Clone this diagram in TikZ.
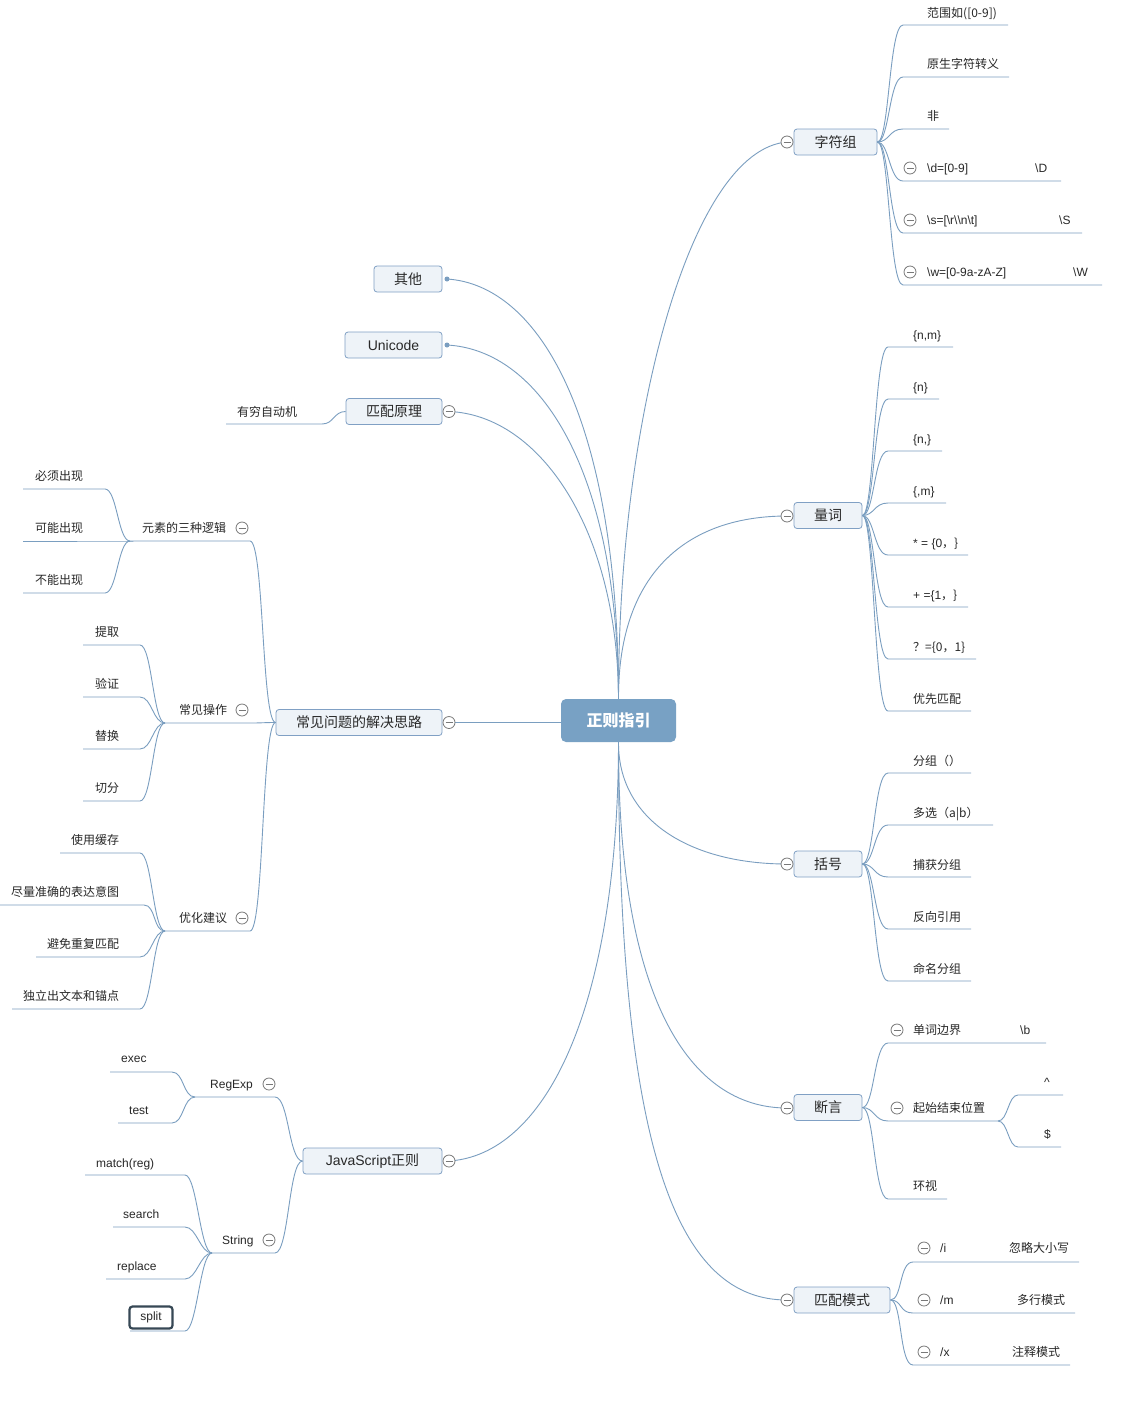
\documentclass[tikz,border=0pt]{standalone}
\usepackage{fontspec}
\setmainfont{Liberation Sans}
\newfontfamily\cjk{Noto Sans CJK SC}
\definecolor{linec}{RGB}{122,158,192}
\definecolor{topicb}{RGB}{128,160,196}
\definecolor{topicf}{RGB}{238,243,248}
\definecolor{rootc}{RGB}{120,161,196}
\definecolor{collc}{RGB}{120,120,120}
\definecolor{txt}{RGB}{40,40,40}
\definecolor{splitc}{RGB}{55,72,85}
\tikzset{
 conn/.style={draw=linec, line width=0.9pt},
 topic/.style={draw=topicb, fill=topicf, rounded corners=3pt, line width=0.8pt, minimum height=26pt, inner sep=0pt, text=txt, font=\fontsize{14}{16}\selectfont},
 rootbox/.style={fill=rootc, rounded corners=5pt, minimum width=115pt, minimum height=43pt, inner sep=0pt, text=white, font=\fontsize{16}{18}\selectfont\bfseries},
 lbl/.style={anchor=base west, inner sep=0pt, text=txt, font=\fontsize{12}{14}\selectfont},
 coll/.style={circle, draw=collc, fill=white, line width=0.8pt, minimum size=12pt, inner sep=0pt,
   path picture={\draw[collc, line width=0.8pt] ([xshift=2.5pt]path picture bounding box.west) -- ([xshift=-2.5pt]path picture bounding box.east);}},
 dotc/.style={circle, fill=linec, minimum size=5pt, inner sep=0pt},
}
\begin{document}
\begin{tikzpicture}[x=1pt,y=-1pt]
\useasboundingbox (0,0) rectangle (1142,1406);
\fill[white] (0,0) rectangle (1142,1406);

% ---------- main nodes ----------
\node[rootbox] (root) at (618.5,720.5) {\cjk 正则指引};
\node[topic, minimum width=83pt] (zf) at (835.5,142) {\cjk 字符组};
\node[topic, minimum width=68pt] (lc) at (828,515.5) {\cjk 量词};
\node[topic, minimum width=68pt] (kh) at (828,864) {\cjk 括号};
\node[topic, minimum width=68pt] (dy) at (828,1107.5) {\cjk 断言};
\node[topic, minimum width=96pt] (ms) at (842,1300) {\cjk 匹配模式};
\node[topic, minimum width=68pt] (qt) at (408,279) {\cjk 其他};
\node[topic, minimum width=97pt] (uc) at (393.5,345) {Unicode};
\node[topic, minimum width=96pt] (yl) at (394,411.5) {\cjk 匹配原理};
\node[topic, minimum width=166pt] (cj) at (359,722.5) {\cjk 常见问题的解决思路};
\node[topic, minimum width=139pt] (js) at (372.5,1161) {JavaScript\cjk{正则}};

% ---------- main connectors ----------
\coordinate (zfc) at (787,142);
\coordinate (lcc) at (787,516);
\coordinate (khc) at (787,864);
\coordinate (dyc) at (787,1108);
\coordinate (msc) at (787,1300);
\coordinate (ylc) at (449,411.5);
\coordinate (cjc) at (449,722.5);
\coordinate (jsc) at (449,1161);
\draw[conn] (root.north) .. controls (618,420) and (690,150) .. (zfc);
\draw[conn] (root.north) .. controls (618,570) and (690,516) .. (lcc);
\draw[conn] (root.south) .. controls (618,820) and (690,864) .. (khc);
\draw[conn] (root.south) .. controls (618,1000) and (690,1108) .. (dyc);
\draw[conn] (root.south) .. controls (618,1160) and (680,1300) .. (msc);
\draw[conn] (root.north) .. controls (618,420) and (540,285) .. (447,279) coordinate (qtd);
\draw[conn] (root.north) .. controls (618,470) and (540,350) .. (447,345) coordinate (ucd);
\draw[conn] (root.north) .. controls (618,530) and (540,415) .. (ylc);
\draw[conn] (root.west |- cjc) -- (cjc);
\draw[conn] (root.south) .. controls (618,1010) and (545,1155) .. (jsc);
\node[dotc] (qtdot) at (qtd) {};
\node[dotc] (ucdot) at (ucd) {};
\node[coll] (zfcol) at (zfc) {};
\node[coll] (lccol) at (lcc) {};
\node[coll] (khcol) at (khc) {};
\node[coll] (dycol) at (dyc) {};
\node[coll] (mscol) at (msc) {};
\node[coll] (ylcol) at (ylc) {};
\node[coll] (cjcol) at (cjc) {};
\node[coll] (jscol) at (jsc) {};

% ---------- 字符组 ----------
\foreach \n/\y/\xe in {1/25/1008, 2/77/1009, 3/129/949, 4/181/1061, 5/233/1082, 6/285/1102} {
  \coordinate (zf\n s) at (903,\y); \coordinate (zf\n e) at (\xe,\y);
  \draw[conn] (zf.east) .. controls +(12,0) and +(-14,0) .. (zf\n s) -- (zf\n e);
}
\node[lbl] (zft1) at (927,17.5) {\cjk{范围如}([0-9])};
\node[lbl] (zft2) at (927,68.5) {\cjk 原生字符转义};
\node[lbl] (zft3) at (927,120.5) {\cjk 非};
\node[coll] (zfc4) at (910,168) {};
\node[lbl] (zft4) at (927,172.5) {\textbackslash d=[0-9]};
\node[lbl] (zfx4) at (1035,172.5) {\textbackslash D};
\node[coll] (zfc5) at (910,220) {};
\node[lbl] (zft5) at (927,224.5) {\textbackslash s=[\textbackslash r\textbackslash\textbackslash n\textbackslash t]};
\node[lbl] (zfx5) at (1059,224.5) {\textbackslash S};
\node[coll] (zfc6) at (910,272) {};
\node[lbl] (zft6) at (927,276.5) {\textbackslash w=[0-9a-zA-Z]};
\node[lbl] (zfx6) at (1073,276.5) {\textbackslash W};

% ---------- 量词 ----------
\foreach \n/\y/\xe in {1/347/953, 2/399/939, 3/451/942, 4/503/946, 5/555/968, 6/607/968, 7/659/976, 8/711/971} {
  \coordinate (lc\n s) at (888,\y); \coordinate (lc\n e) at (\xe,\y);
  \draw[conn] (lc.east) .. controls +(12,0) and +(-14,0) .. (lc\n s) -- (lc\n e);
}
\node[lbl] (lct1) at (913,339.5) {\{n,m\}};
\node[lbl] (lct2) at (913,391.5) {\{n\}};
\node[lbl] (lct3) at (913,443.5) {\{n,\}};
\node[lbl] (lct4) at (913,495.5) {\{,m\}};
\node[lbl] (lct5) at (913,547.5) {* = \{0\cjk{，}\}};
\node[lbl] (lct6) at (913,599.5) {+ =\{1\cjk{，}\}};
\node[lbl] (lct7) at (913,651.5) {\cjk{？}=\{0\cjk{，}1\}};
\node[lbl] (lct8) at (913,703.5) {\cjk 优先匹配};

% ---------- 括号 ----------
\foreach \n/\y/\xe in {1/773/971, 2/825/993, 3/877/971, 4/929/971, 5/981/971} {
  \coordinate (kh\n s) at (888,\y); \coordinate (kh\n e) at (\xe,\y);
  \draw[conn] (kh.east) .. controls +(12,0) and +(-14,0) .. (kh\n s) -- (kh\n e);
}
\node[lbl] (kht1) at (913,765.5) {\cjk 分组（）};
\node[lbl] (kht2) at (913,817.5) {\cjk{多选（}a|b\cjk{）}};
\node[lbl] (kht3) at (913,869.5) {\cjk 捕获分组};
\node[lbl] (kht4) at (913,921.5) {\cjk 反向引用};
\node[lbl] (kht5) at (913,973.5) {\cjk 命名分组};

% ---------- 断言 ----------
\foreach \n/\y/\xe in {1/1043/1046, 2/1121/998, 3/1199/947} {
  \coordinate (dy\n s) at (888,\y); \coordinate (dy\n e) at (\xe,\y);
  \draw[conn] (dy.east) .. controls +(12,0) and +(-14,0) .. (dy\n s) -- (dy\n e);
}
\coordinate (dyas) at (1018,1095); \coordinate (dyae) at (1063,1095);
\coordinate (dybs) at (1018,1147); \coordinate (dybe) at (1061,1147);
\draw[conn] (dy2e) .. controls +(10,0) and +(-10,0) .. (dyas) -- (dyae);
\draw[conn] (dy2e) .. controls +(10,0) and +(-10,0) .. (dybs) -- (dybe);
\node[coll] (dyc1) at (897,1030) {};
\node[lbl] (dyt1) at (913,1034.5) {\cjk 单词边界};
\node[lbl] (dyx1) at (1020,1034.5) {\textbackslash b};
\node[coll] (dyc2) at (897,1108) {};
\node[lbl] (dyt2) at (913,1112.5) {\cjk 起始结束位置};
\node[lbl] (dyta) at (1044,1086) {\textasciicircum};
\node[lbl] (dytb) at (1044,1138.5) {\$};
\node[lbl] (dyt3) at (913,1190.5) {\cjk 环视};

% ---------- 匹配模式 ----------
\foreach \n/\y/\xe in {1/1262/1079, 2/1313/1075, 3/1365/1070} {
  \coordinate (ms\n s) at (913,\y); \coordinate (ms\n e) at (\xe,\y);
  \draw[conn] (ms.east) .. controls +(12,0) and +(-14,0) .. (ms\n s) -- (ms\n e);
}
\node[coll] (msc1) at (924,1248) {};
\node[lbl] (mst1) at (940,1252.5) {/i};
\node[lbl] (msx1) at (1009,1252.5) {\cjk 忽略大小写};
\node[coll] (msc2) at (924,1300) {};
\node[lbl] (mst2) at (940,1304.5) {/m};
\node[lbl] (msx2) at (1017,1304.5) {\cjk 多行模式};
\node[coll] (msc3) at (924,1352) {};
\node[lbl] (mst3) at (940,1356.5) {/x};
\node[lbl] (msx3) at (1012,1356.5) {\cjk 注释模式};

% ---------- 匹配原理 ----------
\coordinate (yl1s) at (226,424); \coordinate (yl1e) at (322,424);
\draw[conn] (yl.west) .. controls +(-12,0) and +(12,0) .. (yl1e) -- (yl1s);
\node[lbl] (ylt1) at (237,416.5) {\cjk 有穷自动机};

% ---------- 常见问题的解决思路 ----------
\coordinate (yss) at (130,541); \coordinate (yse) at (250,541);
\coordinate (cos) at (165,723); \coordinate (coe) at (250,723);
\coordinate (yhs) at (165,931); \coordinate (yhe) at (250,931);
\draw[conn] (cj.west) .. controls +(-14,0) and +(14,0) .. (yse) -- (yss);
\draw[conn] (cj.west) .. controls +(-14,0) and +(14,0) .. (coe) -- (cos);
\draw[conn] (cj.west) .. controls +(-14,0) and +(14,0) .. (yhe) -- (yhs);
\node[lbl] (yst) at (142,532.5) {\cjk 元素的三种逻辑};
\node[coll] (ysc) at (242,528) {};
\node[lbl] (cot) at (179,714.5) {\cjk 常见操作};
\node[coll] (coc) at (242,710) {};
\node[lbl] (yht) at (179,922.5) {\cjk 优化建议};
\node[coll] (yhc) at (242,918) {};

\foreach \n/\y/\xs/\xe in {1/489/23/105, 2/541/23/130, 3/593/23/105} {
  \coordinate (ys\n s) at (\xs,\y); \coordinate (ys\n e) at (\xe,\y);
  \draw[conn] (yss) .. controls +(-12,0) and +(12,0) .. (ys\n e) -- (ys\n s);
}
\node[lbl] (yst1) at (35,480.5) {\cjk 必须出现};
\node[lbl] (yst2) at (35,532.5) {\cjk 可能出现};
\node[lbl] (yst3) at (35,584.5) {\cjk 不能出现};

\foreach \n/\y in {1/645, 2/697, 3/749, 4/801} {
  \coordinate (co\n s) at (83,\y); \coordinate (co\n e) at (140,\y);
  \draw[conn] (cos) .. controls +(-12,0) and +(12,0) .. (co\n e) -- (co\n s);
}
\node[lbl] (cot1) at (95,636.5) {\cjk 提取};
\node[lbl] (cot2) at (95,688.5) {\cjk 验证};
\node[lbl] (cot3) at (95,740.5) {\cjk 替换};
\node[lbl] (cot4) at (95,792.5) {\cjk 切分};

\foreach \n/\y/\xs/\xe in {1/853/60/140, 2/905/0/144, 3/957/36/140, 4/1009/12/140} {
  \coordinate (yh\n s) at (\xs,\y); \coordinate (yh\n e) at (\xe,\y);
  \draw[conn] (yhs) .. controls +(-12,0) and +(12,0) .. (yh\n e) -- (yh\n s);
}
\node[lbl] (yht1) at (71,844.5) {\cjk 使用缓存};
\node[lbl] (yht2) at (11,896.5) {\cjk 尽量准确的表达意图};
\node[lbl] (yht3) at (47,948.5) {\cjk 避免重复匹配};
\node[lbl] (yht4) at (23,1000.5) {\cjk 独立出文本和锚点};

% ---------- JavaScript正则 ----------
\coordinate (res) at (195,1097); \coordinate (ree) at (275,1097);
\coordinate (sts) at (212,1253); \coordinate (ste) at (275,1253);
\draw[conn] (js.west) .. controls +(-14,0) and +(14,0) .. (ree) -- (res);
\draw[conn] (js.west) .. controls +(-14,0) and +(14,0) .. (ste) -- (sts);
\node[lbl] (ret) at (210,1088.5) {RegExp};
\node[coll] (rec) at (269,1084) {};
\node[lbl] (stt) at (222,1244.5) {String};
\node[coll] (stc) at (269,1240) {};

\foreach \n/\y/\xs in {1/1072/110, 2/1123/118} {
  \coordinate (re\n s) at (\xs,\y); \coordinate (re\n e) at (172,\y);
  \draw[conn] (res) .. controls +(-12,0) and +(12,0) .. (re\n e) -- (re\n s);
}
\node[lbl] (ret1) at (121,1062.5) {exec};
\node[lbl] (ret2) at (129,1114.5) {test};

\foreach \n/\y/\xs in {1/1175/85, 2/1227/113, 3/1279/106, 4/1331/130} {
  \coordinate (st\n s) at (\xs,\y); \coordinate (st\n e) at (185,\y);
  \draw[conn] (sts) .. controls +(-12,0) and +(12,0) .. (st\n e) -- (st\n s);
}
\node[lbl] (stt1) at (96,1167.5) {match(reg)};
\node[lbl] (stt2) at (123,1218.5) {search};
\node[lbl] (stt3) at (117,1270.5) {replace};
\node[draw=splitc, line width=2.2pt, rounded corners=3pt, minimum width=43pt, minimum height=22pt, inner sep=0pt, text=txt, font=\fontsize{12}{14}\selectfont] (stt4) at (151,1317.5) {split};
\end{tikzpicture}
\end{document}
